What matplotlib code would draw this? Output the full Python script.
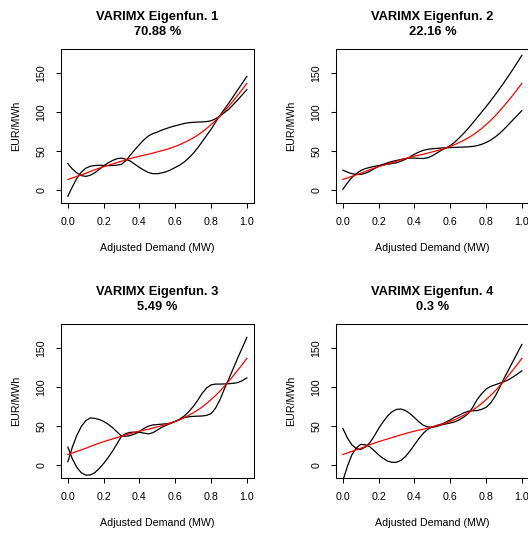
import matplotlib
matplotlib.use("Agg")
import matplotlib.pyplot as plt

plt.rcParams['font.family'] = ['Liberation Sans', 'DejaVu Sans']

# ---------------- data ----------------
x_grid = [0.000, 0.025, 0.050, 0.075, 0.100, 0.125, 0.150, 0.175, 0.200, 0.225,
          0.250, 0.275, 0.300, 0.325, 0.350, 0.375, 0.400, 0.425, 0.450, 0.475,
          0.500, 0.525, 0.550, 0.575, 0.600, 0.625, 0.650, 0.675, 0.700, 0.725,
          0.750, 0.775, 0.800, 0.825, 0.850, 0.875, 0.900, 0.925, 0.950, 0.975,
          1.000]

mean_curve = [13.5, 15.5, 17.5, 19.5, 21.5, 23.8, 26, 28, 30, 31.8,
              33.5, 35.3, 37, 38.8, 40.5, 42, 43.5, 44.8, 46, 47.5,
              49, 50.5, 52, 54, 56, 58.3, 61, 63.8, 67, 70.5,
              74.5, 79, 84, 89.3, 95, 101.3, 108, 114.8, 122, 129.3,
              137]

titles = ["VARIMX Eigenfun. 1", "VARIMX Eigenfun. 2",
          "VARIMX Eigenfun. 3", "VARIMX Eigenfun. 4"]
percents = ["70.88 %", "22.16 %", "5.49 %", "0.3 %"]

ef1_a = [34, 27, 22, 18.5, 17.5, 19, 22, 26.5, 31, 35,
         38, 40.3, 41, 39.5, 37, 33, 29, 25.5, 22.5, 21,
         21, 22, 23.5, 26, 29, 32, 36, 41, 47, 54,
         62, 70, 78, 87, 96, 104, 112, 120.5, 129, 137.5,
         146]
ef1_b = [-8, 4, 15, 23, 28, 30.5, 31.5, 31.8, 31.5, 31.3,
         31.5, 32, 33, 38, 45, 52, 58.5, 64.5, 69.5, 72.5,
         74.5, 77, 79, 81, 82.5, 84, 85.5, 86.5, 87, 87.3,
         87.5, 88, 89, 91.5, 95, 99.5, 104, 110, 116, 122.5,
         129]

ef2_a = [25.5, 23, 21, 20, 20, 21.5, 24, 27.3, 30.5, 33,
         35, 36.7, 38, 39.3, 40.5, 41, 41, 40.7, 40.5, 41.5,
         44, 47.5, 51, 54, 57, 61.5, 67, 72.8, 79, 86,
         93, 100, 107, 114.5, 122, 130, 138, 146.5, 155, 164,
         173]
ef2_b = [1, 9, 16, 21, 25, 27.5, 29, 30.3, 31.5, 32.3,
         33, 34, 35, 37, 39.5, 42.5, 46, 48.8, 51, 52.3,
         53, 53.5, 54, 54.3, 54.5, 54.8, 55, 55.2, 55.5, 56,
         57, 58.7, 61, 64, 68, 72.5, 78, 84, 90, 96,
         102]

ef3_a = [23, 8, -3, -10, -13, -12.8, -10, -4.5, 2, 9.5,
         18, 27.5, 37, 40.5, 42, 42.3, 42, 41, 40, 41.5,
         45, 48.5, 51, 53.5, 56, 58.5, 61, 62, 62.5, 62.8,
         63, 63.8, 66, 73, 84, 98, 111, 124.5, 138, 151,
         164]
ef3_b = [4.3, 23, 38, 49.5, 57, 60.5, 60, 58.5, 56, 52.5,
         48, 42.5, 37, 37, 38, 40, 43, 47, 50, 51.5,
         52, 52.5, 53, 54, 56, 59, 63, 68.5, 75, 83,
         92, 99, 103, 104, 104, 104.2, 104.5, 105, 106, 108.5,
         112]

ef4_a = [47, 35, 26, 21, 20, 23, 28.5, 37, 47, 55.5,
         63, 68.5, 71.5, 72, 70, 66, 61, 55.5, 51, 49,
         48.5, 49.5, 51.5, 52.8, 54, 55.5, 58, 61.5, 66, 74,
         84, 91.5, 97.5, 101, 103, 105, 107, 109.5, 113, 116.8,
         121]
ef4_b = [-20, -2, 13, 22, 26.5, 26, 23.5, 18.5, 13, 8.5,
         5, 3.5, 3.5, 6, 11, 18, 26, 34, 41, 46,
         49, 51, 52.5, 55, 58, 61.5, 64, 67, 69, 69.7,
         70, 71.5, 74, 79.5, 88, 99, 111, 122, 133, 144,
         155]

curves = [(ef1_a, ef1_b), (ef2_a, ef2_b), (ef3_a, ef3_b), (ef4_a, ef4_b)]

x_ticks = [0.0, 0.2, 0.4, 0.6, 0.8, 1.0]
x_ticklabels = ["0.0", "0.2", "0.4", "0.6", "0.8", "1.0"]
y_ticks = [0, 50, 100, 150]
y_ticklabels = ["0", "50", "100", "150"]

xlabel = "Adjusted Demand (MW)"
ylabel = "EUR/MWh"

# ---------------- layout ----------------
W, H = 528, 534
fig = plt.figure(figsize=(W / 100, H / 100), dpi=100)

box_w, box_h = 193.3, 154.0
lefts = [60.7, 335.7]
tops = [48.7, 323.7]

base_fs = 7.7
title_fs = 9.25

for i in range(4):
    r, c = divmod(i, 2)
    ax = fig.add_axes([lefts[c] / W, (H - tops[r] - box_h) / H, box_w / W, box_h / H])
    a, b = curves[i]
    ax.plot(x_grid, a, color="black", lw=0.9)
    ax.plot(x_grid, b, color="black", lw=0.9)
    ax.plot(x_grid, mean_curve, color="#ff0000", lw=0.9)

    ax.set_xlim(-0.04, 1.04)
    ax.set_ylim(-16.3, 181.6)
    ax.set_xticks(x_ticks)
    ax.set_xticklabels(x_ticklabels)
    ax.set_yticks(y_ticks)
    ax.set_yticklabels(y_ticklabels, rotation=90, va="center")
    ax.tick_params(direction="out", length=3.6, width=0.75, labelsize=base_fs,
                   colors="black")
    ax.tick_params(axis="x", pad=6.8)
    ax.tick_params(axis="y", pad=6.8)
    for s in ax.spines.values():
        s.set_linewidth(0.75)

    ax.set_title(titles[i] + "\n" + percents[i], fontsize=title_fs,
                 fontweight="bold", linespacing=1.3, pad=9.9)

    ax.set_xlabel(xlabel, fontsize=base_fs)
    ax.xaxis.set_label_coords(0.5, -45.5 / box_h)
    ax.xaxis.label.set_verticalalignment("center")
    ax.set_ylabel(ylabel, fontsize=base_fs)
    ax.yaxis.set_label_coords(-45.0 / box_w, 0.5)
    ax.yaxis.label.set_verticalalignment("center")

fig.savefig("out.png", dpi=100)
